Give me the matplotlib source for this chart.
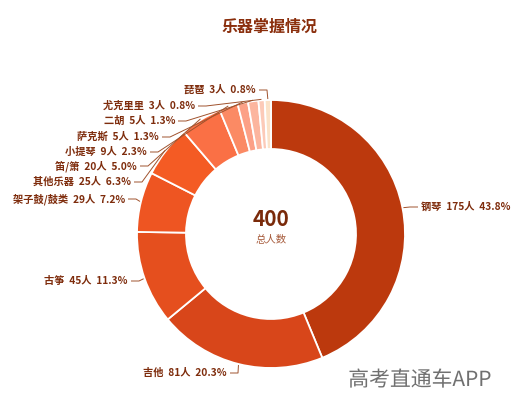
import numpy as np
import matplotlib
matplotlib.use("Agg")
import matplotlib.pyplot as plt
import matplotlib.patheffects as pe

plt.rcParams['font.family'] = ['Noto Sans CJK SC', 'DejaVu Sans']

# ---- data ----
names = ['钢琴', '吉他', '古筝', '架子鼓/鼓类', '其他乐器', '笛/箫', '小提琴', '萨克斯', '二胡', '尤克里里', '琵琶']
counts = [175, 81, 45, 29, 25, 20, 9, 5, 5, 3, 3]
pcts = [43.8, 20.3, 11.3, 7.2, 6.3, 5.0, 2.3, 1.3, 1.3, 0.8, 0.8]
total_label = '400'
total_caption = '总人数'
title = '乐器掌握情况'
watermark = '高考直通车APP'

colors = ['#BC390D', '#D8461A', '#E54F1E', '#EE5522', '#F45B24', '#FA7045',
          '#FB8A64', '#FCA086', '#FCB59E', '#FCCAB8', '#FBE2C8']

# ---- layout (pixel positions of label text ends, y) ----
W, H = 522, 419
label_anchor_px = [(421, 207, 'left'), (227, 373, 'right'), (128, 281, 'right'),
                   (125, 199, 'right'), (131, 182, 'right'), (137, 166, 'right'),
                   (147, 152, 'right'), (159, 137, 'right'), (175, 121, 'right'),
                   (195, 106, 'right'), (256, 90, 'right')]

fig = plt.figure(figsize=(W / 100, H / 100), dpi=100)
ax = fig.add_axes([0, 0, 1, 1])

def Y(py):
    return H - py

cx, cy = 271, Y(234)
R, r_in = 134, 85

wedges, _ = ax.pie(counts, colors=colors, startangle=90, counterclock=False,
                   radius=R, center=(cx, cy),
                   wedgeprops=dict(width=R - r_in, edgecolor='white', linewidth=1.3))

ax.set_xlim(0, W)
ax.set_ylim(0, H)
ax.set_aspect('equal')
ax.axis('off')

label_color = '#7E2C0C'
line_color = '#A0522D'
for w, name, c, p, (tx, ty, ha) in zip(wedges, names, counts, pcts, label_anchor_px):
    mid = np.deg2rad((w.theta1 + w.theta2) / 2)
    px, py = cx + (R + 1) * np.cos(mid), cy + (R + 1) * np.sin(mid)
    ty_d = Y(ty)
    if ha == 'right':
        t_pt = tx + 3
        e_pt = tx + 11
    else:
        t_pt = tx - 3
        e_pt = tx - 11
    ax.plot([t_pt, e_pt, px], [ty_d, ty_d, py], color=line_color, lw=0.7,
            solid_capstyle='butt')
    ax.text(tx, ty_d, f'{name}  {c}人  {p:.1f}%', ha=ha, va='center',
            fontsize=7.35, fontweight='bold', color=label_color)

ax.text(cx, Y(220), total_label, ha='center', va='center', fontsize=15,
        fontweight='bold', color='#7A2A0A')
ax.text(cx, Y(240), total_caption, ha='center', va='center', fontsize=7.5,
        color='#A65A3A')

ax.text(W / 2 + 9, Y(27), title, ha='center', va='center', fontsize=11.5,
        fontweight='bold', color='#8A2E0C')

ax.text(420, Y(380), watermark, ha='center', va='center', fontsize=15,
        color='#707070', fontweight='light',
        path_effects=[pe.withStroke(linewidth=1.5, foreground='white')])

fig.savefig('out.png', dpi=100, facecolor='white')
